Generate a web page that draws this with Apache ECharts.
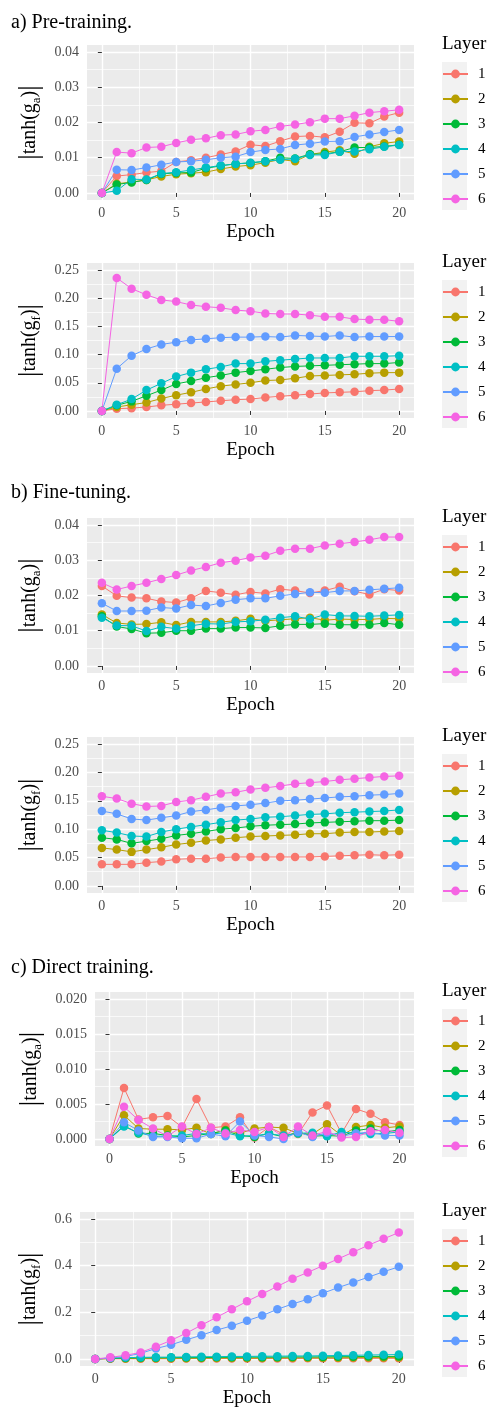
<!DOCTYPE html>
<html>
<head>
<meta charset="utf-8">
<script src="https://cdn.jsdelivr.net/npm/echarts@6/dist/echarts.min.js"></script>
<style>
  html, body { margin: 0; padding: 0; background: #fff; }
  #chart { width: 489px; height: 1410px; }
</style>
</head>
<body>
<div id="chart"></div>
<script>
// ---- data ----
var epochs = [0, 1, 2, 3, 4, 5, 6, 7, 8, 9, 10, 11, 12, 13, 14, 15, 16, 17, 18, 19, 20];
var layers = ['1', '2', '3', '4', '5', '6'];
var layerColors = ['#F8766D', '#B79F00', '#00BA38', '#00BFC4', '#619CFF', '#F564E3'];

// a) pre-training, |tanh(g_a)|  (one row per layer)
var preGa = [
    [0, .0048, .0052, .0058, .0062, .0088, .0093, .0100, .0109, .0118, .0137, .0133, .0147, .0160, .0162, .0158, .0174, .0199, .0198, .0217, .0228],
    [0, .0026, .0031, .0037, .0047, .0053, .0056, .0059, .0068, .0075, .0079, .0086, .0095, .0090, .0109, .0116, .0121, .0111, .0131, .0141, .0146],
    [0, .0024, .0030, .0037, .0054, .0057, .0058, .0070, .0077, .0083, .0085, .0090, .0100, .0098, .0110, .0111, .0117, .0129, .0129, .0132, .0137],
    [0, .0006, .0039, .0038, .0055, .0059, .0065, .0072, .0078, .0082, .0086, .0090, .0094, .0097, .0108, .0108, .0117, .0118, .0124, .0131, .0136],
    [0, .0066, .0065, .0072, .0080, .0088, .0090, .0094, .0100, .0103, .0116, .0122, .0125, .0136, .0140, .0146, .0147, .0159, .0166, .0173, .0179],
    [0, .0116, .0113, .0129, .0131, .0142, .0151, .0155, .0164, .0166, .0175, .0179, .0189, .0194, .0201, .0211, .0211, .0219, .0228, .0232, .0236]
];
// a) pre-training, |tanh(g_f)|
var preGf = [
    [0, .004, .005, .007, .010, .012, .014, .016, .018, .020, .021, .024, .026, .028, .030, .032, .033, .034, .036, .037, .039],
    [0, .007, .011, .015, .022, .028, .033, .039, .044, .047, .050, .054, .055, .058, .062, .063, .064, .065, .067, .068, .068],
    [0, .010, .017, .027, .037, .048, .053, .059, .063, .068, .071, .074, .077, .079, .080, .081, .082, .083, .084, .084, .086],
    [0, .011, .021, .037, .049, .061, .068, .074, .078, .084, .084, .088, .090, .092, .094, .094, .094, .097, .097, .097, .098],
    [0, .075, .098, .110, .118, .122, .126, .128, .130, .131, .131, .132, .131, .134, .133, .132, .134, .131, .132, .132, .132],
    [0, .236, .217, .206, .197, .194, .188, .185, .183, .179, .177, .173, .172, .172, .170, .167, .167, .163, .162, .162, .159]
];
// b) fine-tuning, |tanh(g_a)|
var fineGa = [
    [.0227, .0199, .0194, .0192, .0183, .0180, .0192, .0213, .0208, .0202, .0210, .0206, .0218, .0214, .0207, .0214, .0225, .0212, .0203, .0218, .0214],
    [.0146, .0122, .0118, .0119, .0124, .0116, .0125, .0125, .0125, .0128, .0134, .0128, .0131, .0134, .0137, .0130, .0133, .0132, .0132, .0135, .0134],
    [.0141, .0112, .0105, .0093, .0094, .0100, .0100, .0106, .0106, .0109, .0109, .0108, .0114, .0118, .0118, .0120, .0117, .0117, .0117, .0122, .0117],
    [.0137, .0115, .0114, .0099, .0111, .0106, .0114, .0120, .0119, .0125, .0127, .0131, .0137, .0141, .0133, .0146, .0142, .0142, .0141, .0143, .0145],
    [.0178, .0156, .0156, .0157, .0166, .0163, .0173, .0170, .0179, .0188, .0192, .0192, .0199, .0204, .0209, .0208, .0213, .0213, .0216, .0219, .0222],
    [.0236, .0217, .0227, .0236, .0247, .0258, .0271, .0281, .0293, .0299, .0308, .0313, .0327, .0333, .0333, .0342, .0347, .0352, .0358, .0366, .0366]
];
// b) fine-tuning, |tanh(g_f)|
var fineGf = [
    [.038, .038, .038, .041, .043, .047, .048, .048, .050, .051, .051, .051, .051, .051, .051, .052, .053, .054, .055, .054, .055],
    [.067, .064, .060, .064, .068, .073, .076, .080, .082, .085, .087, .088, .089, .090, .092, .092, .094, .095, .095, .096, .097],
    [.085, .082, .075, .079, .083, .089, .092, .096, .100, .102, .105, .107, .108, .109, .111, .112, .113, .114, .115, .115, .116],
    [.098, .094, .088, .087, .095, .100, .104, .108, .112, .116, .118, .121, .122, .124, .126, .127, .129, .130, .131, .132, .134],
    [.132, .127, .118, .116, .120, .124, .131, .134, .138, .141, .143, .146, .150, .151, .153, .155, .157, .158, .160, .161, .163],
    [.158, .154, .145, .140, .141, .148, .151, .157, .163, .165, .170, .173, .176, .180, .182, .184, .187, .189, .191, .193, .194]
];
// c) direct training, |tanh(g_a)|
var directGa = [
    [0, .0073, .0028, .0031, .0033, .0017, .0057, .0016, .0018, .0031, .0002, .0017, .0007, .0007, .0038, .0048, .0008, .0043, .0036, .0024, .0020],
    [0, .0034, .0015, .0014, .0014, .0013, .0016, .0007, .0013, .0008, .0015, .0017, .0016, .0008, .0007, .0021, .0005, .0017, .0020, .0016, .0018],
    [0, .0019, .0008, .0008, .0005, .0003, .0005, .0008, .0012, .0005, .0003, .0008, .0003, .0010, .0004, .0005, .0004, .0012, .0015, .0010, .0013],
    [0, .0018, .0009, .0004, .0004, .0005, .0008, .0007, .0009, .0004, .0005, .0007, .0005, .0008, .0009, .0004, .0010, .0008, .0007, .0008, .0010],
    [0, .0024, .0012, .0003, .0003, .0001, .0001, .0007, .0004, .0025, .0005, .0003, .0000, .0010, .0003, .0009, .0004, .0008, .0010, .0005, .0005],
    [0, .0046, .0027, .0015, .0004, .0018, .0007, .0016, .0008, .0013, .0010, .0017, .0003, .0018, .0005, .0011, .0002, .0003, .0011, .0013, .0009]
];
// c) direct training, |tanh(g_f)|
var directGf = [
    [0, .001, .001, .001, .001, .001, .002, .002, .002, .002, .002, .002, .002, .002, .003, .003, .003, .003, .003, .003, .003],
    [0, .002, .002, .003, .003, .003, .003, .004, .004, .004, .004, .004, .005, .005, .005, .005, .005, .006, .006, .006, .006],
    [0, .003, .004, .005, .005, .006, .006, .006, .007, .007, .008, .008, .008, .009, .009, .009, .010, .010, .011, .011, .011],
    [0, .004, .006, .007, .008, .008, .009, .010, .010, .011, .011, .012, .012, .013, .013, .014, .015, .016, .017, .018, .019],
    [0, .004, .011, .024, .045, .061, .082, .102, .124, .142, .164, .186, .213, .236, .256, .282, .306, .328, .351, .374, .395],
    [0, .007, .016, .028, .053, .080, .111, .145, .179, .213, .247, .279, .311, .344, .371, .400, .429, .458, .488, .515, .542]
];

// tick breaks
var epochTicks = [0, 5, 10, 15, 20];
var epochMinor = [2.5, 7.5, 12.5, 17.5];
var gaTicks = [0, 0.01, 0.02, 0.03, 0.04];
var gaMinor = [0.005, 0.015, 0.025, 0.035];
var gfTicks = [0, 0.05, 0.10, 0.15, 0.20, 0.25];
var gfMinor = [0.025, 0.075, 0.125, 0.175, 0.225];
var directGaTicks = [0, 0.005, 0.010, 0.015, 0.020];
var directGaMinor = [0.0025, 0.0075, 0.0125, 0.0175];
var directGfTicks = [0, 0.2, 0.4, 0.6];
var directGfMinor = [0.1, 0.3, 0.5];

// ---- layout ----
var FONT = 'Liberation Serif';
var RIGHT = 414;
var panels = [
    {vals: preGa,    left: 87, top: 45,   bottom: 200,  ymin: -0.002, ymax: 0.042,  ticks: gaTicks,       minor: gaMinor,       dig: 2, sub: 'a', title: 'a) Pre-training.',    titleY: 23},
    {vals: preGf,    left: 87, top: 263,  bottom: 418,  ymin: -0.0125, ymax: 0.2625, ticks: gfTicks,      minor: gfMinor,       dig: 2, sub: 'f'},
    {vals: fineGa,   left: 87, top: 518,  bottom: 673,  ymin: -0.002, ymax: 0.042,  ticks: gaTicks,       minor: gaMinor,       dig: 2, sub: 'a', title: 'b) Fine-tuning.',     titleY: 493},
    {vals: fineGf,   left: 87, top: 737,  bottom: 893,  ymin: -0.0125, ymax: 0.2625, ticks: gfTicks,      minor: gfMinor,       dig: 2, sub: 'f'},
    {vals: directGa, left: 95, top: 992,  bottom: 1146, ymin: -0.001, ymax: 0.021,  ticks: directGaTicks, minor: directGaMinor, dig: 3, sub: 'a', title: 'c) Direct training.', titleY: 968},
    {vals: directGf, left: 80, top: 1212, bottom: 1366, ymin: -0.03,  ymax: 0.63,   ticks: directGfTicks, minor: directGfMinor, dig: 1, sub: 'f'}
];

var grids = [], xAxes = [], yAxes = [], series = [], legends = [], titles = [], graphics = [];

panels.forEach(function (p, g) {
    grids.push({
        left: p.left, top: p.top, width: RIGHT - p.left, height: p.bottom - p.top,
        show: true, backgroundColor: '#EBEBEB', borderWidth: 0
    });
    // major x axis
    xAxes.push({
        type: 'value', gridIndex: g, min: -1, max: 21,
        axisLine: {show: false},
        axisTick: {show: true, length: 4, customValues: epochTicks, lineStyle: {color: '#333', width: 1}},
        axisLabel: {customValues: epochTicks, color: '#4D4D4D', fontFamily: FONT, fontSize: 14, margin: 6},
        splitLine: {show: true, lineStyle: {color: '#fff', width: 1.4}},
        name: 'Epoch', nameLocation: 'middle', nameGap: 23,
        nameTextStyle: {fontFamily: FONT, fontSize: 19, color: '#000'}
    });
    // minor x grid
    xAxes.push({
        type: 'value', gridIndex: g, min: -1, max: 21,
        axisLine: {show: false},
        axisTick: {show: false, customValues: epochMinor},
        axisLabel: {show: false},
        splitLine: {show: true, lineStyle: {color: '#fff', width: 0.7}}
    });
    yAxes.push({
        type: 'value', gridIndex: g, min: p.ymin, max: p.ymax, position: 'left',
        axisLine: {show: false},
        axisTick: {show: true, length: 4, customValues: p.ticks, lineStyle: {color: '#333', width: 1}},
        axisLabel: {
            customValues: p.ticks, color: '#4D4D4D', fontFamily: FONT, fontSize: 14, margin: 8,
            formatter: (function (d) { return function (v) { return v.toFixed(d); }; })(p.dig)
        },
        splitLine: {show: true, lineStyle: {color: '#fff', width: 1.4}},
        name: '{bar||}{fn|tanh(g}{sub|' + p.sub + '}{fn|)}{bar||}',
        nameLocation: 'middle', nameRotate: 90, nameGap: p.left - 47,
        nameTextStyle: {
            fontFamily: FONT, fontSize: 20, color: '#000',
            rich: {
                bar: {fontFamily: FONT, fontSize: 27, lineHeight: 26, color: '#000'},
                fn: {fontFamily: FONT, fontSize: 20, lineHeight: 26, color: '#000'},
                sub: {fontFamily: FONT, fontSize: 13, lineHeight: 26, color: '#000', padding: [12, 0, 0, 0]}
            }
        }
    });
    yAxes.push({
        type: 'value', gridIndex: g, min: p.ymin, max: p.ymax, position: 'left',
        axisLine: {show: false},
        axisTick: {show: false, customValues: p.minor},
        axisLabel: {show: false},
        splitLine: {show: true, lineStyle: {color: '#fff', width: 0.7}}
    });

    layers.forEach(function (name, k) {
        series.push({
            type: 'line', name: name,
            xAxisIndex: 2 * g, yAxisIndex: 2 * g,
            data: epochs.map(function (e, i) { return [e, p.vals[k][i]]; }),
            symbol: 'circle', symbolSize: 8.5, showSymbol: true,
            lineStyle: {width: 1, color: layerColors[k]},
            itemStyle: {color: layerColors[k]},
            emphasis: {disabled: true},
            animation: false
        });
    });

    var layerY = p.top - 1;
    titles.push({
        text: 'Layer', left: 442, top: layerY - 10, padding: 0,
        textStyle: {fontFamily: FONT, fontSize: 19, fontWeight: 'normal', color: '#000', lineHeight: 20}
    });
    graphics.push({
        type: 'rect', left: 442, top: layerY + 18, z: 0,
        shape: {width: 25, height: 148},
        style: {fill: '#F2F2F2'}
    });
    legends.push({
        orient: 'vertical', left: 442, top: layerY + 22.5, padding: 0,
        itemWidth: 25, itemHeight: 11, itemGap: 10,
        selectedMode: false, data: layers,
        textStyle: {fontFamily: FONT, fontSize: 15, color: '#000', lineHeight: 15, padding: [0, 0, 0, 5]}
    });
    if (p.title) {
        titles.push({
            text: p.title, left: 11, top: p.titleY - 11, padding: 0,
            textStyle: {fontFamily: FONT, fontSize: 20, fontWeight: 'normal', color: '#000', lineHeight: 22}
        });
    }
});

var chart = echarts.init(document.getElementById('chart'), null, {renderer: 'canvas'});
chart.setOption({
    backgroundColor: '#fff',
    animation: false,
    title: titles,
    grid: grids,
    xAxis: xAxes,
    yAxis: yAxes,
    legend: legends,
    graphic: graphics,
    series: series
});
</script>
</body>
</html>
